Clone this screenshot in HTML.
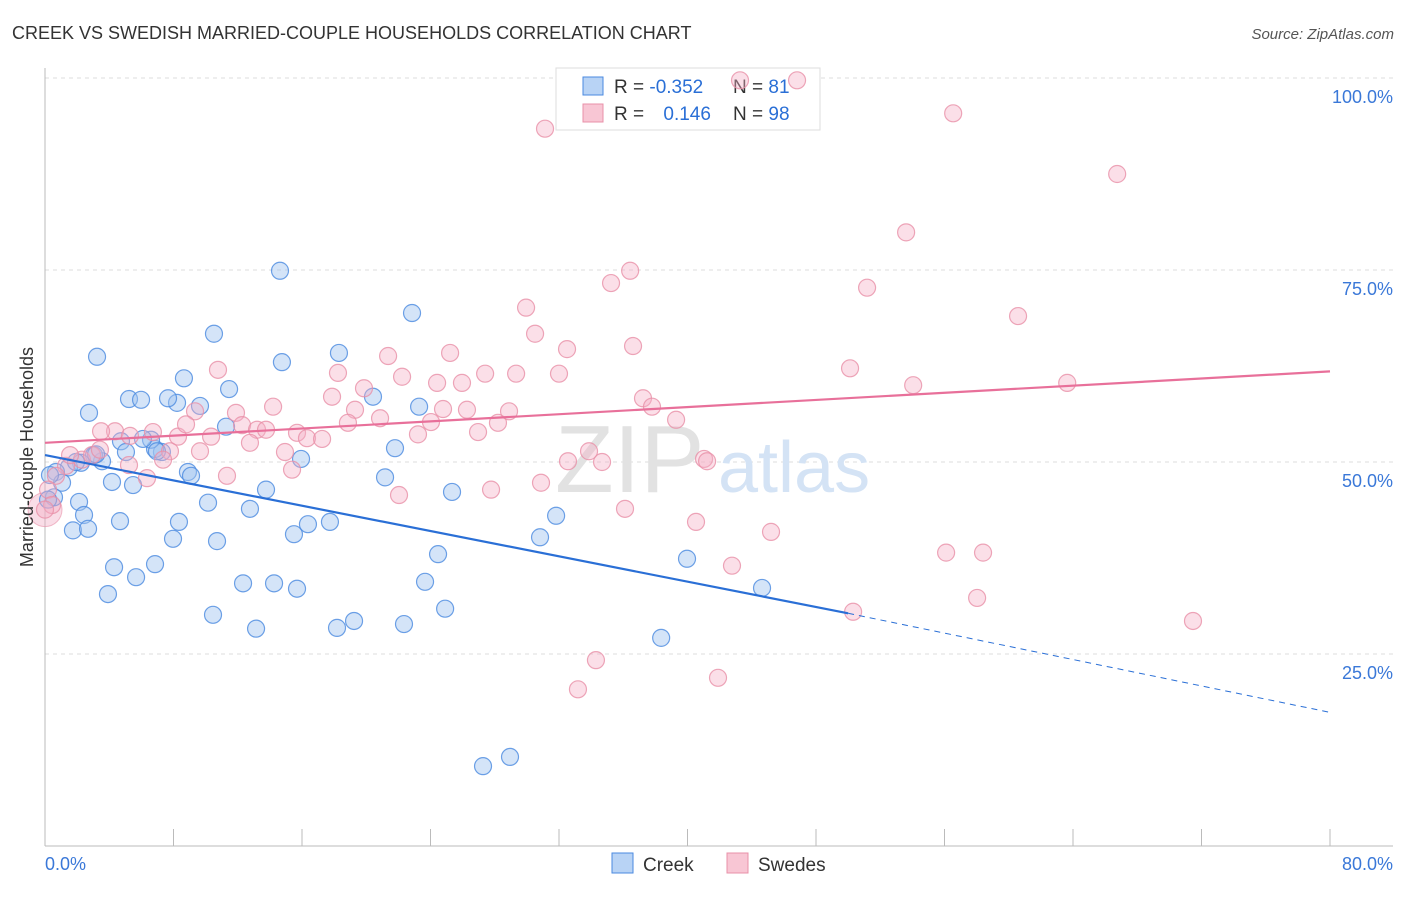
<!DOCTYPE html>
<html><head><meta charset="utf-8"><style>
body{margin:0;background:#fff;font-family:"Liberation Sans",sans-serif}
svg text{font-family:"Liberation Sans",sans-serif}
</style></head><body>
<svg id="chart" width="1406" height="892">
<text x="12" y="39" font-size="18" fill="#333">CREEK VS SWEDISH MARRIED-COUPLE HOUSEHOLDS CORRELATION CHART</text>
<text x="1394" y="39" font-size="15" fill="#555" font-style="italic" text-anchor="end">Source: ZipAtlas.com</text>
<g id="grid"></g>
<text x="555" y="492" font-size="96" fill="#e2e2e2" font-family="Liberation Serif">ZIP</text>
<text x="718" y="492" font-size="72" fill="#d4e3f5">atlas</text>
<g>
<rect x="556" y="68" width="264" height="62" fill="#fff" stroke="#ddd"/>
<rect x="583" y="77" width="20" height="18" fill="#b8d3f5" stroke="#4a8ae0"/>
<rect x="583" y="104" width="20" height="18" fill="#f8c6d4" stroke="#e890a8"/>
<text x="614" y="93" font-size="19" fill="#333">R = <tspan fill="#2a6fd6">-0.352</tspan></text>
<text x="733" y="93" font-size="19" fill="#333">N = <tspan fill="#2a6fd6"> 81</tspan></text>
<text x="614" y="120" font-size="19" fill="#333">R = <tspan fill="#2a6fd6" dx="14">0.146</tspan></text>
<text x="733" y="120" font-size="19" fill="#333">N = <tspan fill="#2a6fd6">98</tspan></text>
</g>
<g id="points"></g>
<g id="lines"></g>
<text x="33" y="457" font-size="18" fill="#333" text-anchor="middle" transform="rotate(-90 33 457)">Married-couple Households</text>
<g>
<rect x="612" y="853" width="21" height="20" fill="#b8d3f5" stroke="#4a8ae0"/>
<text x="643" y="871" font-size="19" fill="#333">Creek</text>
<rect x="727" y="853" width="21" height="20" fill="#f8c6d4" stroke="#e890a8"/>
<text x="758" y="871" font-size="19" fill="#333">Swedes</text>
</g>
</svg>
<script>
const xTicks=[0,8,16,24,32,40,48,56,64,72,80];
const yTicks=[25,50,75,100];
const yTickLabels=["25.0%","50.0%","75.0%","100.0%"];
const xEndLabels=["0.0%","80.0%"];
const creekX=[3.24,2.74,5.23,5.98,8.65,8.22,9.65,7.66,10.52,11.46,11.27,14.63,14.75,18.3,20.42,22.85,23.29,21.79,21.17,15.94,13.76,12.76,10.15,8.34,7.97,10.71,8.9,9.09,7.28,6.85,6.6,6.1,4.73,5.04,4.17,5.48,4.67,3.55,3.05,2.24,1.49,0.68,1.06,0.56,2.12,2.43,1.74,2.68,4.3,3.92,5.67,6.85,10.46,12.33,13.14,14.26,15.69,15.5,16.37,17.74,18.18,19.24,22.35,23.66,24.47,24.91,25.34,30.82,31.82,39.97,38.36,44.64,27.27,28.95,0.19,0.31,1.93,3.18,6.97];
const creekY=[63.7,56.4,58.2,58.1,60.9,57.7,57.3,58.3,66.7,59.5,54.6,74.9,63.0,64.2,58.5,69.4,57.2,51.8,48.0,50.4,46.4,43.9,44.7,42.2,40.0,39.7,48.7,48.2,51.3,51.7,52.9,53.0,52.7,51.3,47.4,47.0,42.3,50.1,50.9,49.9,49.3,48.7,47.3,45.4,44.8,43.1,41.1,41.3,36.3,32.8,35.0,36.7,30.1,34.2,28.3,34.2,33.5,40.6,41.9,42.2,28.4,29.3,28.9,34.4,38.0,30.9,46.1,40.2,43.0,37.4,27.1,33.6,10.4,11.6,45.1,48.3,50.0,51.0,51.4];
const swedesX=[31.13,46.82,43.27,56.54,66.75,53.61,36.43,35.24,51.18,29.95,30.51,60.58,36.61,32.5,25.22,21.36,50.12,54.05,63.64,18.24,22.23,24.41,25.96,27.4,29.33,32.0,10.77,19.86,17.87,14.2,11.89,9.34,8.28,8.78,10.34,12.27,13.2,13.76,15.69,16.31,17.25,14.94,15.38,12.76,11.33,9.65,7.78,7.35,5.23,4.36,3.49,5.29,6.72,6.35,19.3,20.86,18.86,24.03,23.22,24.78,26.27,28.2,28.89,26.96,22.04,27.77,30.88,32.56,33.87,34.68,37.23,37.79,39.29,41.03,41.22,36.11,40.53,45.2,42.77,56.1,58.4,58.03,50.31,71.47,34.3,33.18,41.9,2.3,2.93,1.31,0.68,0.19,0.44,1.56,3.42,0];
const swedesY=[93.4,99.7,99.7,95.4,87.5,79.9,74.9,73.3,72.7,70.1,66.7,69.0,65.1,64.7,64.2,63.8,62.2,60.0,60.3,61.6,61.1,60.3,60.3,61.5,61.5,61.5,62.0,59.6,58.5,57.2,56.4,56.6,53.3,54.9,53.3,54.8,54.2,54.2,53.8,53.1,53.0,51.3,49.0,52.5,48.2,51.4,51.4,50.3,49.6,54.0,54.0,53.4,53.9,47.9,56.8,55.7,55.1,55.2,53.6,56.9,56.8,55.1,56.6,53.9,45.7,46.4,47.3,50.1,51.4,50.0,58.3,57.2,55.5,50.4,50.1,43.9,42.2,40.9,36.5,38.2,38.2,32.3,30.5,29.3,24.2,20.4,21.9,50.3,50.9,49.5,48.2,46.4,44.4,50.9,51.6,43.8];
const creekLine=[50.9,30.3,17.4]; // y at x=0, x=50, x=80
const swedesLine=[52.5,61.8]; // y at x=0, x=80
const X0=45,X1=1330,Y0=846,Y1=78;
const sx=v=>X0+(v/80)*(X1-X0);
const sy=v=>Y0-(v/100)*(Y0-Y1);
const NS="http://www.w3.org/2000/svg";
function mk(tag,attrs,parent){const e=document.createElementNS(NS,tag);for(const k in attrs)e.setAttribute(k,attrs[k]);parent.appendChild(e);return e;}
const grid=document.getElementById('grid');
yTicks.forEach((t,i)=>{
 const g=mk('line',{x1:X0,x2:1393,y1:sy(t),y2:sy(t),stroke:'#ddd','stroke-dasharray':'4,4'},grid);
 
 
 const l=mk('text',{x:1393,y:sy(t)+25,'font-size':18,fill:'#3a78d8','text-anchor':'end'},grid);
 l.textContent=yTickLabels[i];
 
 
});
const ax=mk('line',{x1:X0,x2:X0,y1:68,y2:Y0,stroke:'#bbb'},grid);


const bx=mk('line',{x1:X0,x2:1393,y1:Y0,y2:Y0,stroke:'#bbb'},grid);


xTicks.forEach(t=>{
 const k=mk('line',{x1:sx(t),x2:sx(t),y1:829,y2:Y0,stroke:'#bbb'},grid);
 
 
});
const xl0=mk('text',{x:45,y:870,'font-size':18,fill:'#3a78d8'},grid);xl0.textContent=xEndLabels[0];


const xl1=mk('text',{x:1393,y:870,'font-size':18,fill:'#3a78d8','text-anchor':'end'},grid);xl1.textContent=xEndLabels[1];


const pts=document.getElementById('points');
const big=mk('circle',{cx:sx(swedesX[swedesX.length-1]),cy:sy(swedesY[swedesY.length-1]),r:17,fill:'rgba(240,170,195,0.4)',stroke:'#e890a8','stroke-opacity':0.6},pts);


creekX.forEach((x,i)=>{
 const c=mk('circle',{cx:sx(x),cy:sy(creekY[i]),r:8.5,fill:'rgba(160,195,240,0.45)',stroke:'#4a8ae0','stroke-opacity':0.8,'stroke-width':1.2},pts);
 
 
});
swedesX.forEach((x,i)=>{
 const c=mk('circle',{cx:sx(x),cy:sy(swedesY[i]),r:8.5,fill:'rgba(245,175,198,0.4)',stroke:'#e890a8','stroke-opacity':0.8,'stroke-width':1.2},pts);
 
 
});
const ln=document.getElementById('lines');
const b1=mk('line',{x1:sx(0),y1:sy(creekLine[0]),x2:sx(50),y2:sy(creekLine[1]),stroke:'#2a6fd6','stroke-width':2.2},ln);


const b2=mk('line',{x1:sx(50),y1:sy(creekLine[1]),x2:sx(80),y2:sy(creekLine[2]),stroke:'#2a6fd6','stroke-width':1,'stroke-dasharray':'6,5'},ln);


const p1=mk('line',{x1:sx(0),y1:sy(swedesLine[0]),x2:sx(80),y2:sy(swedesLine[1]),stroke:'#e8709a','stroke-width':2.2},ln);


</script>
</body></html>
